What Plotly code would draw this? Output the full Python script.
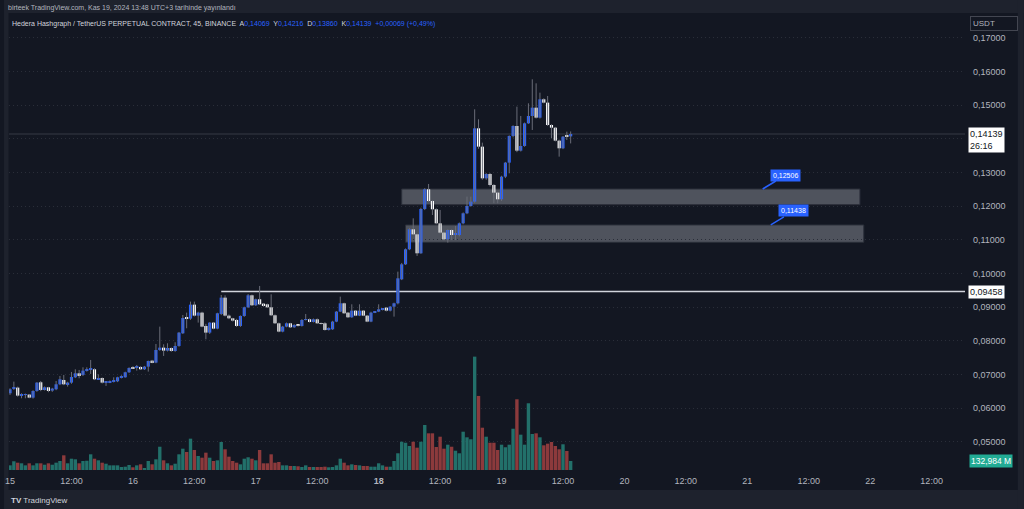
import pandas as pd
import plotly.graph_objects as go

# HBAR/USDT perpetual, 45 dk mumlar (15 Kas 00:00 - 19 Kas 13:30)
start = "2024-11-15 00:00"

opens = [0.06438, 0.06567, 0.06606, 0.06369, 0.06400, 0.06400, 0.06309, 0.06507, 0.06765, 0.06557,
         0.06616, 0.06517, 0.06557, 0.06705, 0.06834, 0.06685, 0.06755, 0.06913, 0.07032, 0.06983,
         0.07111, 0.07131, 0.07151, 0.06854, 0.06893, 0.06755, 0.06765, 0.06784, 0.06794, 0.06893,
         0.06913, 0.07062, 0.07220, 0.07190, 0.07220, 0.07151, 0.07230, 0.07408, 0.07349, 0.07725,
         0.07794, 0.07705, 0.07784, 0.07695, 0.07844, 0.08220, 0.08675, 0.08656, 0.09071, 0.08745,
         0.08834, 0.08438, 0.08240, 0.08537, 0.08359, 0.08794, 0.09279, 0.08745, 0.08665, 0.08616,
         0.08438, 0.08735, 0.08992, 0.09349, 0.09052, 0.09230, 0.09101, 0.09081, 0.08992, 0.08755,
         0.08517, 0.08270, 0.08418, 0.08517, 0.08398, 0.08468, 0.08438, 0.08616, 0.08636, 0.08557,
         0.08636, 0.08517, 0.08517, 0.08319, 0.08339, 0.08567, 0.08864, 0.09111, 0.08834, 0.08695,
         0.08893, 0.08745, 0.08893, 0.08745, 0.08567, 0.08834, 0.08864, 0.08933, 0.08982, 0.08893,
         0.09012, 0.09111, 0.09823, 0.10269, 0.10715, 0.11309, 0.11160, 0.10596, 0.11913, 0.12497,
         0.12150, 0.11903, 0.11487, 0.11210, 0.11012, 0.11289, 0.11140, 0.11140, 0.11487, 0.11784,
         0.12002, 0.12131, 0.14308, 0.13764, 0.12823, 0.12952, 0.12625, 0.12398, 0.12200, 0.12873,
         0.13289, 0.14081, 0.14378, 0.13645, 0.13784, 0.14457, 0.14675, 0.14922, 0.14625, 0.15170,
         0.15071, 0.14407, 0.14328, 0.13942, 0.13715, 0.14085, 0.14069]

highs = [0.06587, 0.06784, 0.06636, 0.06438, 0.06430, 0.06410, 0.06530, 0.06770, 0.06804, 0.06640,
         0.06630, 0.06600, 0.06804, 0.06953, 0.06983, 0.06780, 0.07072, 0.07151, 0.07131, 0.07210,
         0.07210, 0.07428, 0.07180, 0.07002, 0.06910, 0.06800, 0.06820, 0.06913, 0.06930, 0.06973,
         0.07080, 0.07210, 0.07240, 0.07280, 0.07240, 0.07250, 0.07410, 0.07430, 0.07903, 0.08418,
         0.07893, 0.07923, 0.07800, 0.07953, 0.08260, 0.08764, 0.08834, 0.09161, 0.09161, 0.08860,
         0.08860, 0.08500, 0.08550, 0.08550, 0.08830, 0.09358, 0.09350, 0.08780, 0.08680, 0.08650,
         0.08750, 0.09010, 0.09388, 0.09370, 0.09250, 0.09626, 0.09120, 0.09100, 0.09378, 0.08780,
         0.08540, 0.08440, 0.08540, 0.08530, 0.08490, 0.08480, 0.08640, 0.08794, 0.08660, 0.08660,
         0.08660, 0.08540, 0.08550, 0.08400, 0.08590, 0.08880, 0.09309, 0.09130, 0.08850, 0.09081,
         0.08910, 0.09081, 0.08910, 0.08760, 0.08860, 0.08880, 0.09081, 0.08970, 0.09000, 0.09030,
         0.09130, 0.10051, 0.10310, 0.10740, 0.11350, 0.11635, 0.11180, 0.11950, 0.12530, 0.12655,
         0.12170, 0.11930, 0.11883, 0.11230, 0.11310, 0.11310, 0.11408, 0.11510, 0.11810, 0.12279,
         0.12279, 0.14873, 0.14576, 0.13883, 0.12980, 0.12980, 0.12650, 0.12420, 0.12900, 0.13310,
         0.14100, 0.14400, 0.14952, 0.14675, 0.14480, 0.15051, 0.15764, 0.15645, 0.15368, 0.15200,
         0.15269, 0.14430, 0.14350, 0.13970, 0.14080, 0.14209, 0.14216]

lows = [0.06389, 0.06537, 0.06339, 0.06290, 0.06290, 0.06290, 0.06280, 0.06480, 0.06500, 0.06520,
        0.06470, 0.06480, 0.06530, 0.06680, 0.06680, 0.06636, 0.06720, 0.06890, 0.06884, 0.06950,
        0.07082, 0.07012, 0.06830, 0.06840, 0.06730, 0.06656, 0.06740, 0.06760, 0.06770, 0.06880,
        0.06900, 0.07040, 0.07160, 0.07111, 0.07130, 0.07130, 0.07082, 0.07330, 0.07330, 0.07700,
        0.07547, 0.07680, 0.07670, 0.07670, 0.07820, 0.08200, 0.08369, 0.08620, 0.08720, 0.08537,
        0.08400, 0.08042, 0.08200, 0.08340, 0.08340, 0.08760, 0.08720, 0.08640, 0.08570, 0.08410,
        0.08410, 0.08710, 0.08970, 0.09030, 0.09030, 0.09060, 0.09010, 0.08970, 0.08730, 0.08500,
        0.08250, 0.08250, 0.08400, 0.08380, 0.08380, 0.08420, 0.08420, 0.08600, 0.08540, 0.08540,
        0.08500, 0.08480, 0.08300, 0.08300, 0.08320, 0.08550, 0.08850, 0.08800, 0.08680, 0.08680,
        0.08730, 0.08730, 0.08730, 0.08550, 0.08550, 0.08820, 0.08850, 0.08900, 0.08870, 0.08870,
        0.08715, 0.09080, 0.09800, 0.10250, 0.10690, 0.11140, 0.10517, 0.10580, 0.11880, 0.12120,
        0.11734, 0.11460, 0.11180, 0.10980, 0.10913, 0.10992, 0.10990, 0.11100, 0.11460, 0.11760,
        0.11980, 0.12100, 0.13700, 0.12780, 0.12780, 0.12580, 0.12081, 0.12081, 0.12150, 0.12830,
        0.12972, 0.14040, 0.13600, 0.13620, 0.13760, 0.14440, 0.14259, 0.14600, 0.14600, 0.15050,
        0.14380, 0.14011, 0.13920, 0.13467, 0.13690, 0.13962, 0.13860]

closes = [0.06557, 0.06606, 0.06369, 0.06409, 0.06415, 0.06309, 0.06507, 0.06755, 0.06537, 0.06616,
          0.06507, 0.06577, 0.06705, 0.06854, 0.06705, 0.06755, 0.06923, 0.07032, 0.06973, 0.07111,
          0.07151, 0.07161, 0.06854, 0.06893, 0.06755, 0.06784, 0.06804, 0.06814, 0.06913, 0.06933,
          0.07062, 0.07190, 0.07180, 0.07230, 0.07151, 0.07230, 0.07398, 0.07349, 0.07725, 0.07794,
          0.07705, 0.07784, 0.07695, 0.07844, 0.08240, 0.08675, 0.08646, 0.09071, 0.08745, 0.08834,
          0.08418, 0.08240, 0.08537, 0.08359, 0.08814, 0.09279, 0.08745, 0.08665, 0.08596, 0.08438,
          0.08735, 0.08992, 0.09349, 0.09052, 0.09230, 0.09081, 0.09032, 0.08992, 0.08755, 0.08517,
          0.08270, 0.08418, 0.08517, 0.08398, 0.08468, 0.08438, 0.08616, 0.08636, 0.08557, 0.08636,
          0.08517, 0.08497, 0.08319, 0.08369, 0.08567, 0.08864, 0.09111, 0.08814, 0.08695, 0.08893,
          0.08745, 0.08893, 0.08745, 0.08567, 0.08834, 0.08864, 0.08933, 0.08953, 0.08893, 0.09012,
          0.09111, 0.09853, 0.10269, 0.10715, 0.11309, 0.11160, 0.10596, 0.11913, 0.12497, 0.12150,
          0.11903, 0.11487, 0.11210, 0.11012, 0.11289, 0.11140, 0.11200, 0.11487, 0.11784, 0.12002,
          0.12131, 0.14308, 0.13764, 0.12823, 0.12952, 0.12625, 0.12398, 0.12200, 0.12873, 0.13289,
          0.14081, 0.14378, 0.13645, 0.13784, 0.14457, 0.14675, 0.14922, 0.14625, 0.15170, 0.15071,
          0.14407, 0.14328, 0.13942, 0.13715, 0.14061, 0.14069, 0.14139]

# hacim, milyon
volumes = [69, 129, 108, 99, 69, 99, 69, 99, 99, 78, 99, 78, 108, 133, 217, 99, 167, 158, 99, 133,
           137, 232, 167, 143, 108, 93, 69, 69, 69, 44, 49, 74, 40, 69, 84, 30, 133, 84, 158, 344,
           143, 99, 69, 93, 232, 315, 266, 463, 296, 207, 182, 256, 182, 133, 143, 414, 306, 197, 133, 108,
           84, 167, 188, 167, 143, 296, 99, 99, 232, 108, 118, 69, 69, 59, 59, 55, 44, 69, 44, 44,
           44, 44, 49, 40, 44, 69, 167, 108, 69, 84, 74, 69, 59, 59, 49, 49, 99, 69, 49, 49,
           133, 247, 418, 403, 355, 418, 330, 418, 665, 542, 542, 340, 492, 315, 374, 344, 285, 247, 566, 483,
           454, 1675, 1094, 625, 492, 403, 403, 296, 374, 336, 374, 610, 1045, 522, 374, 986, 532, 542, 483, 365,
           389, 414, 355, 306, 380, 281, 132.984]

# destek / direnc kutulari
zone_tops = [0.12506, 0.11438]
zone_bottoms = [0.12040, 0.10923]
zone_starts = ["2024-11-18 04:30", "2024-11-18 05:15"]
zone_ends = ["2024-11-21 22:00", "2024-11-21 22:45"]
zone_labels = ["0,12506", "0,11438"]
label_points = ["2024-11-21 03:00", "2024-11-21 04:35"]

level = 0.09458
level_start = "2024-11-16 17:15"
last_price = 0.14139

y_ticks = [0.05, 0.06, 0.07, 0.08, 0.09, 0.10, 0.11, 0.12, 0.13, 0.14, 0.15, 0.16, 0.17]

BG = "#131722"
FRAME = "#1e222d"
UP = "#2962ff"
DOWN = "#ffffff"
WICK = "#6a6d78"
TXT = "#b2b5be"
FONT = "Liberation Sans"

times = pd.date_range(start, periods=len(closes), freq="45min")
candle_ms = 45 * 60 * 1000

# piksel -> paper koordinat (cizim alani x 5..965, y 14..470)
def px(x):
    return (x - 5) / 960

def py(y):
    return 1 - (y - 14) / 456

up = [c >= o for o, c in zip(opens, closes)]
body_base = [min(o, c) for o, c in zip(opens, closes)]
body_len = [max(abs(c - o), 0.00004) for o, c in zip(opens, closes)]

wick_x, wick_y = [], []
for t, h, l in zip(times, highs, lows):
    wick_x += [t, t, None]
    wick_y += [l, h, None]

fig = go.Figure()

fig.add_trace(go.Bar(
    x=times, y=volumes, yaxis="y2",
    width=candle_ms * 0.88,
    marker_color=["#22706a" if u else "#8c3a3c" for u in up],
    marker_line_width=0, hoverinfo="skip"
))

fig.add_trace(go.Scatter(
    x=wick_x, y=wick_y, mode="lines",
    line=dict(color=WICK, width=1), hoverinfo="skip"
))

fig.add_trace(go.Bar(
    x=times, y=body_len, base=body_base,
    width=candle_ms * 0.82,
    marker_color=[UP if u else DOWN for u in up],
    marker_line_width=0, hoverinfo="skip"
))

shapes = []
for top, bot, x0, x1 in zip(zone_tops, zone_bottoms, zone_starts, zone_ends):
    shapes.append(dict(type="rect", xref="x", yref="y", x0=x0, x1=x1, y0=bot, y1=top,
                       fillcolor="rgba(120,123,134,0.6)", line=dict(color="#2a2e39", width=1),
                       layer="below"))

shapes.append(dict(type="line", xref="paper", yref="y", x0=0, x1=1, y0=last_price, y1=last_price,
                   line=dict(color="#363a45", width=1.2), layer="below"))
shapes.append(dict(type="line", xref="x", yref="y", x0=level_start, x1="2024-11-23", y0=level, y1=level,
                   line=dict(color="#d1d4dc", width=1.5), layer="below"))

# cerceve seritleri
for x0, x1, y0, y1 in [(0, 4.5, 0, 509), (0, 1024, 0, 13), (0, 1024, 490, 509), (1018, 1024, 0, 509)]:
    shapes.append(dict(type="rect", xref="paper", yref="paper", x0=px(x0), x1=px(x1),
                       y0=py(y1), y1=py(y0), fillcolor=FRAME, line_width=0, layer="below"))

def fmt(v):
    return f"{v:.5f}".replace(".", ",")

blue = "<span style='color:#2962ff'>{}</span>"
header = ("Hedera Hashgraph / TetherUS PERPETUAL CONTRACT, 45, BINANCE  "
          "A" + blue.format("0,14069") + "  Y" + blue.format("0,14216") +
          "  D" + blue.format("0,13860") + "  K" + blue.format("0,14139") +
          "  " + blue.format("+0,00069 (+0,49%)"))

annotations = [
    dict(xref="paper", yref="paper", x=px(2), y=py(8), xanchor="left", yanchor="middle",
         text="birteek TradingView.com, Kas 19, 2024 13:48 UTC+3 tarihinde yayınlandı",
         showarrow=False, font=dict(size=7, color=TXT)),
    dict(xref="paper", yref="paper", x=px(6), y=py(24), xanchor="left", yanchor="middle",
         text=header, showarrow=False, font=dict(size=7, color="#d1d4dc")),
    dict(xref="paper", yref="paper", x=px(970), y=py(24), xanchor="left", yanchor="middle",
         text="USDT", showarrow=False, width=42, align="left", bordercolor="#434651",
         borderwidth=1, borderpad=2, font=dict(size=8, color=TXT)),
    dict(xref="paper", yref="y", x=px(968), y=last_price, xanchor="left", yanchor="top",
         text=fmt(last_price) + "<br>26:16", showarrow=False, bgcolor="#ffffff", borderpad=1,
         align="left", font=dict(size=9, color=BG), yshift=7),
    dict(xref="paper", yref="y", x=px(968), y=level, xanchor="left", yanchor="middle",
         text=fmt(level), showarrow=False, bgcolor="#ffffff", borderpad=1,
         font=dict(size=9, color=BG)),
    dict(xref="paper", yref="paper", x=px(969), y=py(461), xanchor="left", yanchor="middle",
         text="132,984 M", showarrow=False, bgcolor="#22ab94", borderpad=1,
         font=dict(size=8.5, color="#ffffff")),
    dict(xref="paper", yref="paper", x=px(5), y=py(500), xanchor="left", yanchor="middle",
         text="<b>TV</b> TradingView", showarrow=False, font=dict(size=8, color="#d1d4dc")),
]

for lbl, pt, top in zip(zone_labels, label_points, zone_tops):
    annotations.append(dict(x=pt, y=top, xref="x", yref="y", text=lbl, showarrow=True,
                            arrowhead=0, arrowwidth=1.5, arrowcolor=UP, ax=23, ay=-14,
                            bgcolor=UP, borderpad=2, font=dict(size=7, color="#ffffff")))

tick_times = pd.date_range("2024-11-15", "2024-11-22 12:00", freq="12h")
tick_text = []
for t in tick_times:
    if t.hour == 12:
        tick_text.append("12:00")
    elif t.day == 18:
        tick_text.append("<b>18</b>")
    else:
        tick_text.append(str(t.day))

# son fiyat etiketi 0,14000 etiketini kapatir
y_text = ["" if abs(v - 0.14) < 1e-9 else fmt(v) for v in y_ticks]

fig.update_layout(
    width=1024, height=509,
    margin=dict(l=5, r=59, t=14, b=39),
    paper_bgcolor=BG, plot_bgcolor=BG,
    showlegend=False, barmode="overlay",
    font=dict(family=FONT, color=TXT, size=9),
    shapes=shapes, annotations=annotations,
    xaxis=dict(
        type="date", range=["2024-11-14 23:48", "2024-11-22 18:31"],
        tickvals=tick_times, ticktext=tick_text, showgrid=False, zeroline=False,
        showline=False, ticks="", ticklabelstandoff=4, tickfont=dict(size=9, color=TXT)
    ),
    yaxis=dict(
        side="right", range=[0.041595, 0.17704], tickvals=y_ticks, ticktext=y_text,
        showgrid=True, gridcolor="#2a2e39", griddash="1px,3px", gridwidth=1,
        zeroline=False, showline=False, ticks="", ticklabelstandoff=7,
        tickfont=dict(size=9, color=TXT)
    ),
    yaxis2=dict(overlaying="y", range=[0, 6738], visible=False),
)

fig.write_html("out.html", config={"displayModeBar": False},
               post_script="document.body.style.margin='0';document.body.style.overflow='hidden';")
